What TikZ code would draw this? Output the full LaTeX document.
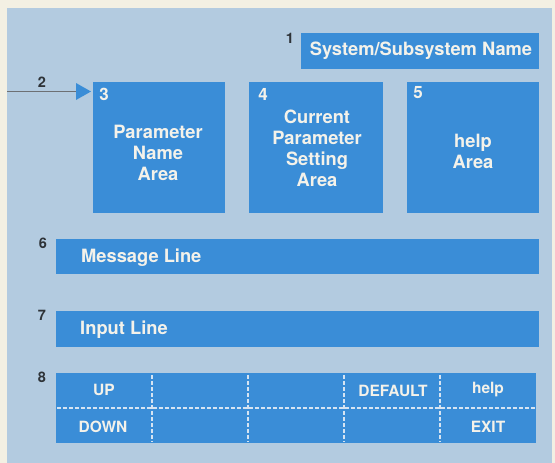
\documentclass[tikz,border=0pt]{standalone}
\usepackage{fontspec}
\setmainfont{TeX Gyre Heros}
\usetikzlibrary{calc}
\definecolor{cream}{HTML}{F3F0E3}
\definecolor{panel}{HTML}{B3CBE0}
\definecolor{boxblue}{HTML}{3A8DD7}
\definecolor{boxtext}{HTML}{F4F2EA}
\definecolor{numdark}{HTML}{2E3338}
\definecolor{dashcol}{HTML}{D6E4F2}
\tikzset{
  x=1pt, y=-1pt,
  area/.style={fill=boxblue, draw=none, inner sep=0pt},
  areatext/.style={text=boxtext, font=\fontsize{18.3}{21}\selectfont\bfseries, align=center, inner sep=0pt},
  linetext/.style={text=boxtext, font=\fontsize{18.3}{21}\selectfont\bfseries, inner sep=0pt, anchor=west},
  keytext/.style={text=boxtext, font=\fontsize{15.5}{18}\selectfont\bfseries, inner sep=0pt},
  num/.style={text=numdark, font=\fontsize{14.5}{16}\selectfont\bfseries, inner sep=0pt},
  innum/.style={text=boxtext, font=\fontsize{17}{19}\selectfont\bfseries, inner sep=0pt},
  keydash/.style={draw=dashcol, line width=1.3pt, dash pattern=on 4pt off 2pt},
}
\begin{document}
\begin{tikzpicture}
  % page and screen panel
  \useasboundingbox (0,0) rectangle (555,463);
  \fill[cream] (0,0) rectangle (555,463);
  \fill[panel] (7,8) rectangle (552,463);

  % 1: system / subsystem name
  \node[area, minimum width=238, minimum height=36] (sys) at (420,51) {};
  \node[areatext] (systxt) at (421,51) {System/Subsystem Name};
  \node[num] (n1) at (290,38) {1};

  % 3, 4, 5: the three upper areas
  \node[area, minimum width=132, minimum height=131] (pname) at (159,147.5) {};
  \node[area, minimum width=134, minimum height=131] (pset)  at (316,147.5) {};
  \node[area, minimum width=132, minimum height=131] (help)  at (473,147.5) {};
  \node[areatext] (pnametxt) at (158,152.5) {Parameter\\Name\\Area};
  \node[areatext] (psettxt)  at (317,148.5) {Current\\Parameter\\Setting\\Area};
  \node[areatext] (helptxt)  at (473,151) {help\\Area};
  \node[innum] (n3) at (104,94) {3};
  \node[innum] (n4) at (263,94) {4};
  \node[innum] (n5) at (418,93) {5};

  % 2: pointer to the first parameter line
  \node[num] (n2) at (42,82) {2};
  \coordinate (ptrstart) at (7,91.5);
  \coordinate (ptrbase) at (76,91.5);
  \draw[numdark!70, line width=0.7pt] (ptrstart) -- (ptrbase);
  \fill[boxblue] (ptrbase) ++(0,-8.5) -- (91,91.5) -- (76,100) -- cycle;

  % 6: message line
  \node[area, minimum width=483, minimum height=35] (msg) at (297.5,256.5) {};
  \node[linetext] (msgtxt) at (81,258) {Message Line};
  \node[num] (n6) at (43,243) {6};

  % 7: input line
  \node[area, minimum width=483, minimum height=36] (inp) at (297.5,329) {};
  \node[linetext] (inptxt) at (80,330) {Input Line};
  \node[num] (n7) at (42,315) {7};

  % 8: softkey labels, two rows of five keys
  \node[area, minimum width=480, minimum height=70] (keys) at (296,408) {};
  \node[num] (n8) at (42,377) {8};
  \draw[keydash] ($(keys.west)+(1,0)$) -- ($(keys.east)+(-1,0)$);
  \foreach \k in {1,2,3,4}{
    \draw[keydash] ($(keys.north west)!\k/5!(keys.north east)+(0,2)$)
                -- ($(keys.south west)!\k/5!(keys.south east)+(0,-2)$);
  }
  \node[keytext] (kup)      at (104,390) {UP};
  \node[keytext] (kdown)    at (103,427) {DOWN};
  \node[keytext] (kdefault) at (393,391) {DEFAULT};
  \node[keytext] (khelp)    at (488,390) {help};
  \node[keytext] (kexit)    at (488,427) {EXIT};
\end{tikzpicture}
\end{document}
